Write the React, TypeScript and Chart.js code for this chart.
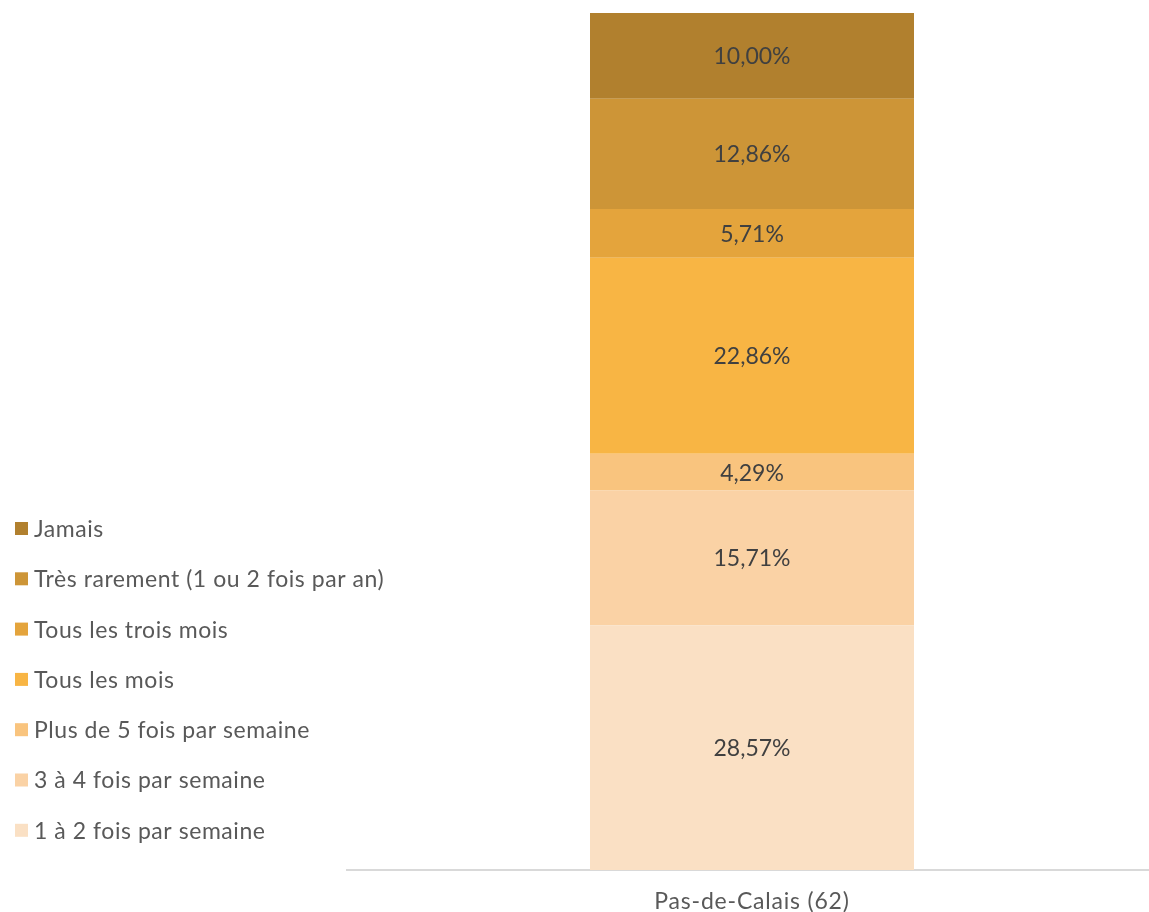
import React, { useEffect, useRef } from "react";
import { Chart, registerables } from "chart.js";

Chart.register(...registerables);

const categories = ["Pas-de-Calais (62)"];
const seriesLabels = [
  "1 à 2 fois par semaine",
  "3 à 4 fois par semaine",
  "Plus de 5 fois par semaine",
  "Tous les mois",
  "Tous les trois mois",
  "Très rarement (1 ou 2 fois par an)",
  "Jamais",
];
const seriesValues = [28.57, 15.71, 4.29, 22.86, 5.71, 12.86, 10.0];
const seriesColors = ["#FAE0C4", "#FAD2A5", "#F9C47E", "#F8B544", "#E4A43C", "#CD9537", "#B1802E"];

const FONT = "Lato, 'Open Sans', sans-serif";

const labelPlugin = {
  id: "valueLabels",
  afterDatasetsDraw(chart: any) {
    const ctx = chart.ctx;
    ctx.save();
    ctx.font = `23px ${FONT}`;
    ctx.fillStyle = "#404040";
    ctx.textAlign = "center";
    ctx.textBaseline = "middle";
    chart.data.datasets.forEach((ds: any, i: number) => {
      const meta = chart.getDatasetMeta(i);
      meta.data.forEach((el: any, j: number) => {
        const { x, y, base } = el.getProps(["x", "y", "base"], true);
        const v = ds.data[j] as number;
        ctx.fillText(v.toFixed(2).replace(".", ",") + "%", x, (y + base) / 2 + 1);
      });
    });
    ctx.restore();
  },
};

const legendPlugin = {
  id: "leftLegend",
  afterDraw(chart: any) {
    const ctx = chart.ctx;
    ctx.save();
    ctx.font = `23px ${FONT}`;
    ctx.textAlign = "left";
    ctx.textBaseline = "middle";
    (ctx as any).letterSpacing = "0.55px";
    const ds = chart.data.datasets;
    const n = ds.length;
    for (let k = 0; k < n; k++) {
      const d = ds[n - 1 - k];
      const cy = 528.5 + k * 50.3;
      ctx.fillStyle = d.backgroundColor;
      ctx.fillRect(15, cy - 6.5, 13, 13);
      ctx.fillStyle = "#595959";
      ctx.fillText(d.label, 34, cy + 1);
    }
    ctx.restore();
  },
};

const xLabelPlugin = {
  id: "xLabels",
  afterDraw(chart: any) {
    const ctx = chart.ctx;
    const xs = chart.scales.x;
    ctx.save();
    ctx.font = `23px ${FONT}`;
    ctx.textAlign = "center";
    ctx.textBaseline = "middle";
    (ctx as any).letterSpacing = "0.8px";
    ctx.fillStyle = "#595959";
    chart.data.labels.forEach((lab: string, i: number) => {
      ctx.fillText(lab, xs.getPixelForTick(i), chart.chartArea.bottom + 32);
    });
    ctx.restore();
  },
};

export default function App() {
  const ref = useRef<HTMLCanvasElement>(null);
  useEffect(() => {
    document.body.style.margin = "0";
    document.body.style.overflow = "hidden";
    const chart = new Chart(ref.current!, {
      type: "bar",
      data: {
        labels: categories,
        datasets: seriesLabels.map((label, i) => ({
          label,
          data: [seriesValues[i]],
          backgroundColor: seriesColors[i],
          borderWidth: 0,
          categoryPercentage: 1,
          barPercentage: 0.4,
        })),
      },
      options: {
        animation: false,
        responsive: true,
        maintainAspectRatio: false,
        layout: { padding: { left: 347, right: 2, top: 13, bottom: 42 } },
        plugins: { legend: { display: false }, tooltip: { enabled: false } },
        scales: {
          x: {
            stacked: true,
            grid: { display: false, drawTicks: false },
            border: { display: true, color: "#D9D9D9", width: 2 },
            ticks: { display: false },
          },
          y: {
            stacked: true,
            display: false,
            min: 0,
            max: 100,
          },
        },
      },
      plugins: [labelPlugin, legendPlugin, xLabelPlugin],
    });
    return () => chart.destroy();
  }, []);
  return (
    <div style={{ width: 1159, height: 912, position: "relative" }}>
      <canvas ref={ref} />
    </div>
  );
}
